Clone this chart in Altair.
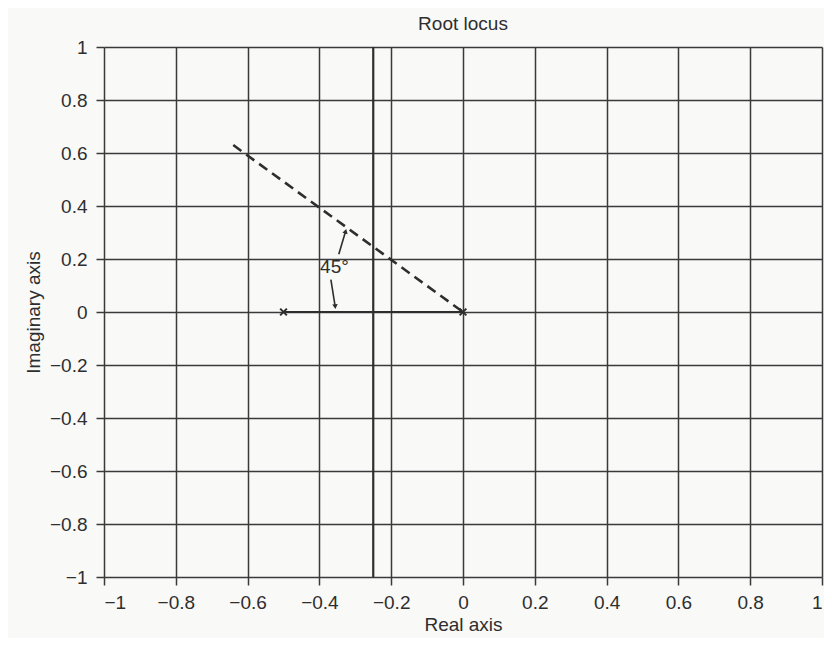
import altair as alt
import pandas as pd

# Axis ticks
ticks = [-1, -0.8, -0.6, -0.4, -0.2, 0, 0.2, 0.4, 0.6, 0.8, 1]

# Open-loop poles (marked with x)
pole_re = [-0.5, 0.0]
pole_im = [0.0, 0.0]

# Root locus on real axis between poles
seg_re = [-0.5, 0.0]
seg_im = [0.0, 0.0]

# Vertical branch (breakaway at -0.25)
vert_re = [-0.25, -0.25]
vert_im = [-1.0, 1.0]

# 45 degree dashed line
dash_re = [0.0, -0.64]
dash_im = [0.0, 0.63]

# Annotation "45°" and its arrows
ann_text = ["45°"]
ann_re = [-0.358]
ann_im = [0.168]
arrow1_re = [-0.346, -0.327]
arrow1_im = [0.218, 0.305]
arrow2_re = [-0.368, -0.356]
arrow2_im = [0.122, 0.02]
head_re = [-0.327, -0.356]
head_im = [0.305, 0.02]
head_shape = ["triangle-up", "triangle-down"]
head_angle = [15, 355]

INK = "#2e2e2e"
FONT = "Liberation Sans"
xs = alt.Scale(domain=[-1, 1], nice=False, zero=False)
ys = alt.Scale(domain=[-1, 1], nice=False, zero=False)

xaxis = alt.Axis(values=ticks, format="~g", title="Real axis", grid=True)
yaxis = alt.Axis(values=ticks, format="~g", title="Imaginary axis", grid=True)

seg = alt.Chart(pd.DataFrame({"re": seg_re, "im": seg_im})).mark_line(
    color=INK, strokeWidth=2.2
).encode(
    x=alt.X("re:Q", scale=xs, axis=xaxis),
    y=alt.Y("im:Q", scale=ys, axis=yaxis),
)

vert = alt.Chart(pd.DataFrame({"re": vert_re, "im": vert_im})).mark_line(
    color=INK, strokeWidth=2.2
).encode(x=alt.X("re:Q", scale=xs), y=alt.Y("im:Q", scale=ys))

dash = alt.Chart(pd.DataFrame({"re": dash_re, "im": dash_im})).mark_line(
    color=INK, strokeWidth=2.6, strokeDash=[10, 6]
).encode(x=alt.X("re:Q", scale=xs), y=alt.Y("im:Q", scale=ys))

poles = alt.Chart(pd.DataFrame({"re": pole_re, "im": pole_im})).mark_point(
    shape="M-1,-1L1,1M-1,1L1,-1", filled=False, size=45, strokeWidth=2, color=INK, opacity=1
).encode(x=alt.X("re:Q", scale=xs), y=alt.Y("im:Q", scale=ys))

a1 = alt.Chart(pd.DataFrame({"re": arrow1_re, "im": arrow1_im})).mark_line(
    color=INK, strokeWidth=1.6
).encode(x=alt.X("re:Q", scale=xs), y=alt.Y("im:Q", scale=ys))
a2 = alt.Chart(pd.DataFrame({"re": arrow2_re, "im": arrow2_im})).mark_line(
    color=INK, strokeWidth=1.6
).encode(x=alt.X("re:Q", scale=xs), y=alt.Y("im:Q", scale=ys))

heads = alt.Chart(
    pd.DataFrame({"re": head_re, "im": head_im, "shape": head_shape, "ang": head_angle})
).mark_point(filled=True, size=30, color=INK, opacity=1).encode(
    x=alt.X("re:Q", scale=xs),
    y=alt.Y("im:Q", scale=ys),
    shape=alt.Shape("shape:N", scale=None, legend=None),
    angle=alt.Angle("ang:Q", scale=None),
)

ann = alt.Chart(pd.DataFrame({"re": ann_re, "im": ann_im, "t": ann_text})).mark_text(
    font=FONT, fontSize=19, color=INK
).encode(x=alt.X("re:Q", scale=xs), y=alt.Y("im:Q", scale=ys), text="t:N")

chart = (
    alt.layer(seg, vert, dash, a1, a2, heads, poles, ann)
    .properties(
        width=718,
        height=530,
        autosize=alt.AutoSizeParams(type="none"),
        padding={"left": 96, "top": 39, "right": 2, "bottom": 61},
        background="#f9f9f8",
        title=alt.TitleParams(
            "Root locus", font=FONT, fontSize=19, fontWeight="normal",
            color=INK, offset=4,
        ),
    )
    .configure_view(stroke=None)
    .configure_axis(
        gridColor="#3a3a3a",
        gridWidth=1.5,
        gridOpacity=1,
        domain=False,
        tickColor="#3a3a3a",
        tickWidth=1.5,
        tickSize=8,
        labelFont=FONT,
        labelFontSize=19,
        labelColor=INK,
        titleFont=FONT,
        titleFontSize=19,
        titleFontWeight="normal",
        titleColor=INK,
    )
    .configure_axisX(labelPadding=8, titlePadding=3)
    .configure_axisY(labelPadding=9, titlePadding=6)
)

chart.save("out.html", embed_options={"renderer": "svg", "actions": False})
